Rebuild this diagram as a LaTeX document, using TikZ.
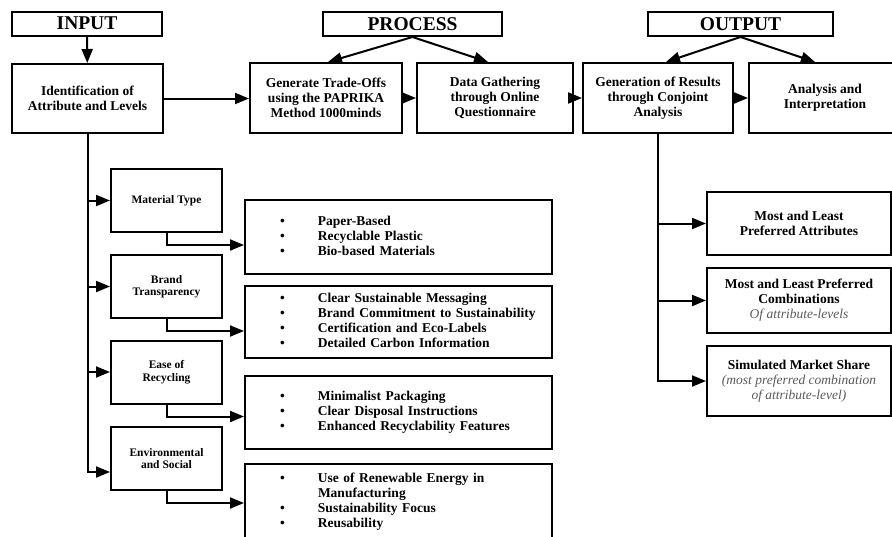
\documentclass[tikz,border=0pt]{standalone}
\usepackage{fontspec}
\setmainfont{Liberation Serif}
\usetikzlibrary{arrows.meta}

\begin{document}
\begin{tikzpicture}[x=1pt, y=-1pt,
    box/.style={draw, line width=2pt, align=center, inner sep=2pt,
        font=\fontsize{13.5}{15}\selectfont\bfseries},
    head/.style={draw, line width=2pt, inner sep=0pt, minimum height=24pt,
        font=\fontsize{19.5}{20}\selectfont\bfseries},
    attr/.style={box, minimum width=111pt, minimum height=63pt,
        font=\fontsize{11.5}{12.5}\selectfont\bfseries},
    list/.style={draw, line width=2pt, minimum width=307pt, text width=237pt,
        align=left, font=\fontsize{13.5}{15}\selectfont\bfseries},
    res/.style={box, minimum width=184pt},
    arrow/.style={line width=2pt, -{Triangle[length=14pt,width=11pt]}}]
    \useasboundingbox (0,0) rectangle (892,536);

    % 見出し
    \node[head, minimum width=150pt] (input) at (87,23.5) {INPUT};
    \node[head, minimum width=179pt] (process) at (412.5,24) {PROCESS};
    \node[head, minimum width=185pt] (output) at (740.5,24) {OUTPUT};

    % 上段の流れ
    \node[box, minimum width=151pt, minimum height=69pt] (ident) at (87.5,98.5)
        {Identification of\\Attribute and Levels};
    \node[box, minimum width=152pt, minimum height=70pt] (gen) at (326,98)
        {Generate Trade-Offs\\using the PAPRIKA\\Method 1000minds};
    \node[box, minimum width=156pt, minimum height=70pt] (data) at (495,98)
        {Data Gathering\\through Online\\Questionnaire};
    \node[box, minimum width=150pt, minimum height=70pt] (gres) at (658,98)
        {Generation of Results\\through Conjoint\\Analysis};
    \node[box, minimum width=152pt, minimum height=70pt] (anal) at (825,98)
        {Analysis and\\Interpretation};

    % 属性
    \node[attr] (mat) at (166.5,200.5) {Material Type};
    \node[attr] (brand) at (166.5,286.5) {Brand\\Transparency};
    \node[attr] (ease) at (166.5,372) {Ease of\\Recycling};
    \node[attr] (env) at (166.5,458.5) {Environmental\\and Social};

    % 水準
    \node[list, minimum height=74pt] (l1) at (398.5,237)
        {\begin{tabular}{@{}p{38pt}@{}l@{}}
        \textbullet & Paper-Based\\
        \textbullet & Recyclable Plastic\\
        \textbullet & Bio-based Materials
        \end{tabular}};
    \node[list, minimum height=72pt] (l2) at (398.5,322)
        {\begin{tabular}{@{}p{38pt}@{}l@{}}
        \textbullet & Clear Sustainable Messaging\\
        \textbullet & Brand Commitment to Sustainability\\
        \textbullet & Certification and Eco-Labels\\
        \textbullet & Detailed Carbon Information
        \end{tabular}};
    \node[list, minimum height=73pt] (l3) at (398.5,412.5)
        {\begin{tabular}{@{}p{38pt}@{}l@{}}
        \textbullet & Minimalist Packaging\\
        \textbullet & Clear Disposal Instructions\\
        \textbullet & Enhanced Recyclability Features
        \end{tabular}};
    \node[list, minimum height=76pt] (l4) at (398.5,502)
        {\begin{tabular}{@{}p{38pt}@{}l@{}}
        \textbullet & Use of Renewable Energy in\\
                    & Manufacturing\\
        \textbullet & Sustainability Focus\\
        \textbullet & Reusability
        \end{tabular}};

    % 結果
    \node[res, minimum height=63pt] (r1) at (799,223.5)
        {Most and Least\\Preferred Attributes};
    \node[res, minimum height=65pt] (r2) at (799,300.5)
        {Most and Least Preferred\\Combinations\\{\normalfont\itshape\color{black!65}Of attribute-levels}};
    \node[res, minimum height=70pt] (r3) at (799,381)
        {Simulated Market Share\\{\normalfont\itshape\color{black!65}(most preferred combination}\\{\normalfont\itshape\color{black!65}of attribute-level)}};

    % 矢印
    \draw[arrow] (input) -- (ident);
    \draw[arrow] (process.south) -- ([xshift=2pt]gen.north);
    \draw[arrow] (process.south) -- ([xshift=-7pt]data.north);
    \draw[arrow] (output.south) -- ([xshift=8pt]gres.north);
    \draw[arrow] (output.south) -- ([xshift=-10pt]anal.north);
    \foreach \a/\b in {ident/gen, gen/data, data/gres, gres/anal}
        \draw[arrow] (\a.east) -- (\a.east -| \b.west);

    % 左の幹線
    \draw[arrow] (ident.south) |- ([yshift=-13.5pt]env.west);
    \foreach \a in {mat, brand, ease}
        \draw[arrow] (ident.south |- \a.west) -- (\a.west);
    \foreach \a/\l in {mat/l1, brand/l2, ease/l3, env/l4}
        \draw[arrow] (\a.south) -- ++(0,12) coordinate (e) -- (e -| \l.west);

    % 右の幹線
    \draw[arrow] (gres.south) |- (r3.west);
    \foreach \r in {r1, r2}
        \draw[arrow] (gres.south |- \r.west) -- (\r.west);
\end{tikzpicture}
\end{document}
